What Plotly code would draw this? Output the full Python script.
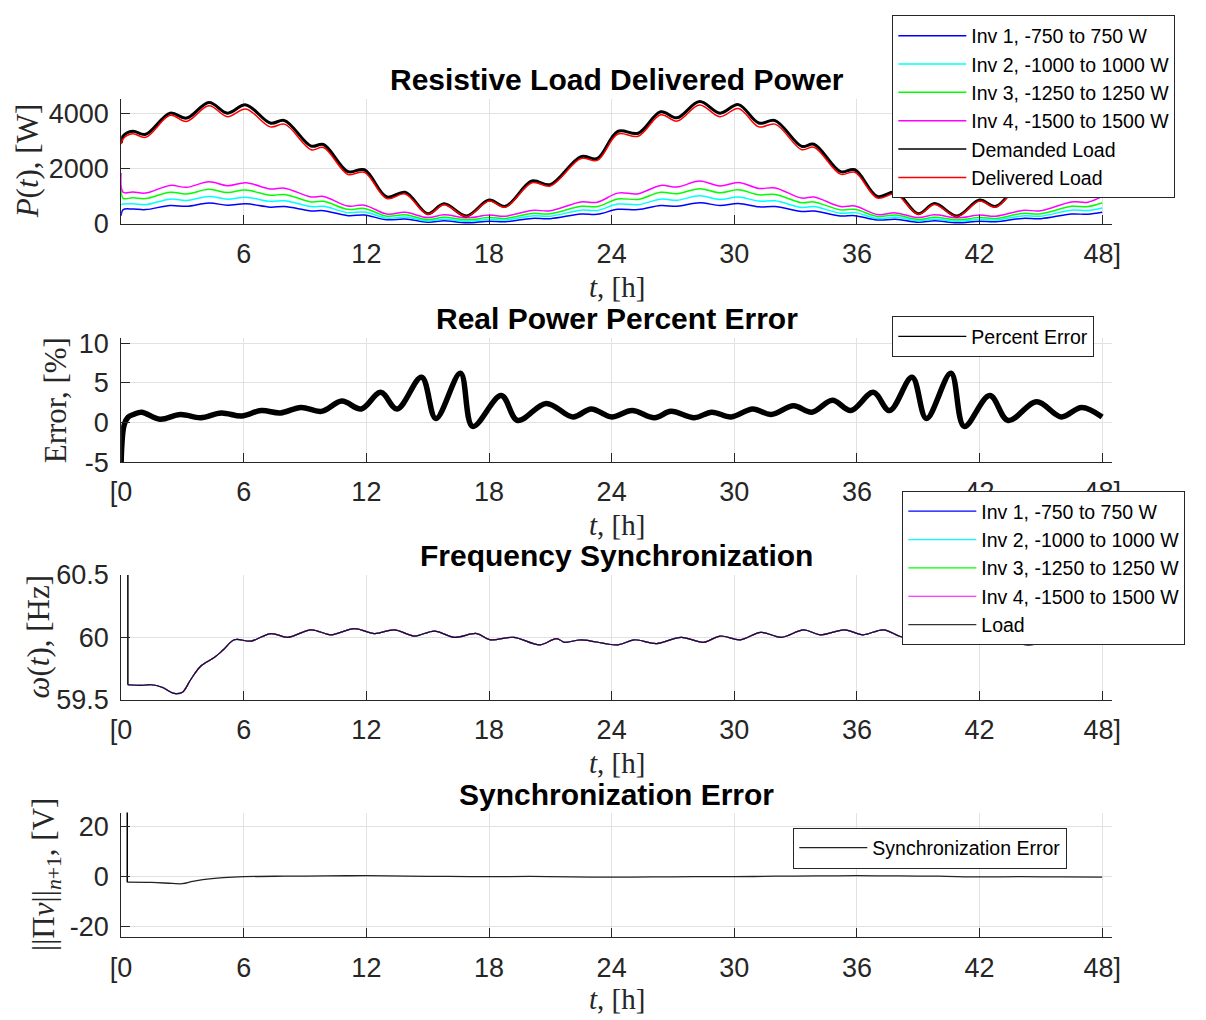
import plotly.graph_objects as go

W, H = 1206, 1020

# ---------------- data ----------------
T_P = [0, 0.1, 0.57, 1.2, 2.4, 3.2, 4.3, 5.2, 6.1, 7.3, 8.0, 9.3, 9.9, 11.1, 11.9, 13.0, 13.9, 15.0, 15.8, 16.9,
       18.0, 18.8, 20.1, 21.0, 22.5, 23.3,
       24.3, 25.3, 26.4, 27.2, 28.3, 29.3, 30.2, 31.2, 32.0, 33.3, 33.9, 35.2, 35.9, 37.0, 37.9, 39.0, 39.8,
       40.9, 42.0, 42.8, 44.1, 45.0, 46.5, 47.3, 48.0]
DEMAND = [2940, 3200, 3370, 3260, 4030, 3850, 4420, 4030, 4330, 3670, 3760, 2830, 2890, 1900, 1970, 980, 1150, 370,
          730, 290, 870, 640, 1560, 1430, 2450, 2380,
          3370, 3300, 4080, 3860, 4450, 4030, 4340, 3670, 3760, 2820, 2900, 1900, 1970, 1000, 1150, 370, 740,
          290, 870, 640, 1560, 1440, 2440, 2380, 3000]
DELIVERED = [2900, 3100, 3280, 3150, 3950, 3730, 4300, 3900, 4180, 3530, 3630, 2700, 2780, 1800, 1880, 920, 1090, 350,
             700, 270, 830, 610, 1500, 1380, 2380, 2310,
             3270, 3190, 3970, 3740, 4330, 3900, 4200, 3530, 3630, 2700, 2790, 1810, 1880, 940, 1090, 350, 710,
             270, 830, 610, 1500, 1390, 2370, 2310, 2900]
INV4 = [1850, 1150, 1160, 1120, 1400, 1330, 1530, 1390, 1500, 1270, 1300, 980, 1000, 650, 680, 360, 420, 230,
        330, 220, 320, 280, 490, 480, 800, 790,
        1120, 1100, 1400, 1340, 1560, 1380, 1510, 1290, 1310, 940, 980, 630, 650, 340, 400, 230, 330,
        220, 320, 280, 490, 480, 800, 790, 1000]
INV3 = [1300, 930, 950, 920, 1150, 1090, 1260, 1140, 1230, 1040, 1070, 800, 820, 530, 560, 280, 330, 160,
        240, 150, 230, 200, 380, 370, 640, 630,
        910, 890, 1150, 1100, 1280, 1130, 1240, 1060, 1070, 770, 800, 510, 530, 270, 320, 160, 240,
        150, 230, 200, 380, 370, 640, 630, 760]
INV2 = [700, 720, 730, 700, 900, 850, 1000, 900, 970, 820, 840, 630, 640, 410, 430, 210, 250, 110,
        170, 100, 160, 140, 290, 280, 500, 490,
        720, 700, 900, 860, 1020, 890, 980, 830, 840, 600, 630, 390, 410, 200, 240, 110, 170,
        100, 160, 140, 290, 280, 500, 490, 580]
INV1 = [300, 520, 540, 520, 670, 640, 760, 680, 730, 610, 630, 470, 480, 300, 320, 150, 180, 60,
        110, 40, 100, 80, 200, 190, 360, 350,
        530, 520, 670, 640, 770, 670, 740, 620, 630, 450, 470, 290, 300, 140, 170, 60, 110,
        40, 100, 80, 200, 190, 360, 350, 420]

T_E = [0, 0.15, 0.35, 0.6, 1.0, 1.9, 2.9, 3.9, 4.9, 5.9, 6.85, 7.8, 8.8, 9.8, 10.8, 11.75, 12.7, 13.5, 14.7, 15.4,
       16.6, 17.2, 18.6, 19.4, 20.8, 22.1, 23.0, 24.0, 25.0, 26.1, 26.9, 28.05, 28.9, 29.85, 30.9, 31.8, 32.9,
       33.8, 34.8, 35.7, 36.8, 37.6, 38.7, 39.4, 40.6, 41.25, 42.5, 43.4, 44.8, 46.0, 47.0, 48.0]
ERR = [-5, -0.3, 0.7, 1.0, 1.3, 0.4, 1.0, 0.6, 1.2, 0.8, 1.5, 1.2, 1.9, 1.4, 2.7, 1.7, 3.8, 1.7, 5.7, 0.5,
       6.2, -0.5, 3.4, 0.25, 2.4, 0.7, 1.7, 0.7, 1.5, 0.6, 1.4, 0.6, 1.3, 0.7, 1.7, 1.0, 2.1,
       1.3, 2.8, 1.5, 3.8, 1.5, 5.7, 0.5, 6.2, -0.5, 3.4, 0.25, 2.6, 0.7, 1.9, 0.7]

T_F = [0.33, 1.0, 1.47, 2.0, 2.6, 3.0, 3.4, 3.9, 4.57, 5.0, 5.54, 6.36, 7.34, 8.15, 9.3, 10.27, 11.42, 12.4,
       13.37, 14.35, 15.33, 16.3, 17.4, 18.06, 19.2, 20.5, 21.3, 21.7, 22.5, 24.3, 25.1, 26.2, 27.4, 28.5,
       29.3, 30.3, 31.3, 32.3, 33.4, 34.2, 35.4, 36.3, 37.3, 38.3, 39.3, 40.3, 41.3, 41.9, 42.6, 43.2,
       44.4, 45.6, 46.6, 47.7]
FREQ = [59.62, 59.615, 59.62, 59.6, 59.55, 59.56, 59.66, 59.77, 59.84, 59.9, 59.98, 59.97, 60.03, 60.0, 60.06,
        60.02, 60.07, 60.03, 60.06, 60.01, 60.05, 60.0, 60.03, 59.98, 60.0, 59.94, 59.99, 59.96, 59.98, 59.94,
        59.98, 59.95, 60.0, 59.96, 60.01, 59.98, 60.04, 60.0, 60.06, 60.02, 60.06, 60.02, 60.06, 60.0, 60.05,
        60.0, 60.03, 59.98, 60.0, 59.97, 59.94, 59.97, 59.96, 59.96]
T_F_SPIKE = [0.33, 0.33]
FREQ_SPIKE = [61.0, 59.62]

T_S = [0.3, 1.5, 2.5, 3.0, 3.5, 4.0, 5.0, 6.0, 8.0, 10.0, 12.0, 14.0, 16.0, 18.0, 20.0, 22.0, 24.0, 26.0,
       28.0, 30.0, 32.0, 34.0, 36.0, 38.0, 40.0, 42.0, 44.0, 46.0, 48.0]
SYNC = [-2.3, -2.4, -2.8, -2.9, -2.0, -1.3, -0.5, -0.1, 0.1, 0.2, 0.3, 0.1, 0.0, -0.1, 0.0, -0.2, -0.3, -0.2,
        -0.1, -0.1, 0.1, 0.2, 0.3, 0.2, 0.1, -0.2, -0.1, -0.2, -0.3]
T_S_SPIKE = [0.3, 0.3]
SYNC_SPIKE = [30.0, -2.3]

XTICKS = [0, 6, 12, 18, 24, 30, 36, 42, 48]
XTEXT_TOP = [" ", "6", "12", "18", "24", "30", "36", "42", "48]"]
XTEXT = ["[0", "6", "12", "18", "24", "30", "36", "42", "48]"]

INV_NAMES = ["Inv 1, -750 to 750 W", "Inv 2, -1000 to 1000 W", "Inv 3, -1250 to 1250 W", "Inv 4, -1500 to 1500 W"]
INV_COLORS = ["#0000ff", "#00ffff", "#00ff00", "#ff00ff"]

# ---------------- geometry (target pixels, corrected for the page's render scaling) ----------------
SX, BX = 0.984, 9.9
SY, BY = 0.972, 14.3
X0, X1 = 120, 1111
PANELS = [(98, 223.5), (338, 462), (575, 700), (813, 938)]


def px(v):
    return ((v - BX) / SX) / W


def py(v):
    return 1 - ((v - BY) / SY) / H


fig = go.Figure()

# panel 1
for name, col, vals in zip(INV_NAMES, INV_COLORS, [INV1, INV2, INV3, INV4]):
    fig.add_trace(go.Scatter(x=T_P, y=vals, name=name, mode="lines", line=dict(color=col, width=1.5, shape="spline"),
                             xaxis="x", yaxis="y", legend="legend"))
fig.add_trace(go.Scatter(x=T_P, y=DEMAND, name="Demanded Load", mode="lines", showlegend=False,
                         line=dict(color="#000000", width=3, shape="spline"), xaxis="x", yaxis="y"))
fig.add_trace(go.Scatter(x=[None], y=[None], name="Demanded Load", mode="lines",
                         line=dict(color="#000000", width=1.5), xaxis="x", yaxis="y", legend="legend"))
fig.add_trace(go.Scatter(x=T_P, y=DELIVERED, name="Delivered Load", mode="lines",
                         line=dict(color="#ff0000", width=1.5, shape="spline"), xaxis="x", yaxis="y", legend="legend"))

# panel 2
fig.add_trace(go.Scatter(x=T_E, y=ERR, name="Percent Error", mode="lines", showlegend=False,
                         line=dict(color="#000000", width=5.5, shape="spline"), xaxis="x2", yaxis="y2"))
fig.add_trace(go.Scatter(x=[None], y=[None], name="Percent Error", mode="lines",
                         line=dict(color="#000000", width=1.3), xaxis="x2", yaxis="y2", legend="legend2"))

# panel 3
for name, col in zip(INV_NAMES, INV_COLORS):
    fig.add_trace(go.Scatter(x=T_F, y=FREQ, name=name, mode="lines", line=dict(color=col, width=1.2, shape="spline"),
                             xaxis="x3", yaxis="y3", legend="legend3"))
fig.add_trace(go.Scatter(x=T_F, y=FREQ, name="Load", mode="lines", opacity=0.8,
                         line=dict(color="#000000", width=1.2, shape="spline"), xaxis="x3", yaxis="y3", legend="legend3"))
fig.add_trace(go.Scatter(x=T_F_SPIKE, y=FREQ_SPIKE, mode="lines", showlegend=False,
                         line=dict(color="#000000", width=1.5), xaxis="x3", yaxis="y3"))

# panel 4
fig.add_trace(go.Scatter(x=T_S, y=SYNC, name="Synchronization Error", mode="lines",
                         line=dict(color="#222222", width=1.3, shape="spline"), xaxis="x4", yaxis="y4", legend="legend4"))
fig.add_trace(go.Scatter(x=T_S_SPIKE, y=SYNC_SPIKE, mode="lines", showlegend=False,
                         line=dict(color="#000000", width=1.5), xaxis="x4", yaxis="y4"))

AX = "#262626"
GRID = "#e2e2e2"
TICKFONT = dict(family="Liberation Sans, Arial, sans-serif", size=27, color=AX)

YRANGES = [[0, 4560], [-5, 10.63], [59.5, 60.5], [-24.4, 25.6]]
YTICKS = [[0, 2000, 4000], [-5, 0, 5, 10], [59.5, 60, 60.5], [-20, 0, 20]]
YTEXT = [["0", "2000", "4000"], ["-5", "0", "5", "10"], ["59.5", "60", "60.5"], ["-20", "0", "20"]]

layout = dict(width=W, height=H, margin=dict(l=0, r=0, t=0, b=0), paper_bgcolor="white", plot_bgcolor="white",
              showlegend=True)
for i, (top, bot) in enumerate(PANELS):
    k = "" if i == 0 else str(i + 1)
    layout["xaxis" + k] = dict(domain=[px(X0), px(X1)], range=[0, 48.5], anchor="y" + k,
                               tickvals=XTICKS, ticktext=XTEXT_TOP if i == 0 else XTEXT,
                               showline=True, linecolor=AX, linewidth=1, ticks="inside", ticklen=9,
                               tickcolor=AX, showgrid=True, gridcolor=GRID, zeroline=False,
                               tickfont=TICKFONT, ticklabelstandoff=6)
    layout["yaxis" + k] = dict(domain=[py(bot), py(top)], range=YRANGES[i], anchor="x" + k,
                               tickvals=YTICKS[i], ticktext=YTEXT[i],
                               showline=True, linecolor=AX, linewidth=1, ticks="inside", ticklen=9,
                               tickcolor=AX, showgrid=True, gridcolor=GRID, zeroline=False,
                               tickfont=TICKFONT, ticklabelstandoff=6)

LEGFONT = dict(family="Liberation Sans, Arial, sans-serif", size=19.5, color="#000000")


def leg(x, y):
    return dict(x=px(x), y=min(py(y), 0.9995), xanchor="left", yanchor="top", bgcolor="white", bordercolor=AX,
                borderwidth=1, font=LEGFONT, itemwidth=68, tracegroupgap=0, itemclick=False)


layout["legend"] = leg(891, 5)
layout["legend2"] = leg(891, 316)
layout["legend3"] = leg(901, 491)
layout["legend4"] = leg(792, 828)

TITLES = ["Resistive Load Delivered Power", "Real Power Percent Error", "Frequency Synchronization",
          "Synchronization Error"]
TITLE_Y = [79, 318, 556, 795]
XLAB_Y = [287, 525, 763, 1000]
YLABS = ["<i>P</i>(<i>t</i>), [W]", "Error, [%]", "<i>ω</i>(<i>t</i>), [Hz]",
         "||Π<i>v</i>||<sub><i>n</i>+1</sub>, [V]"]
YLAB_X = [26, 54, 37, 45]
SERIF = "Liberation Serif, Times New Roman, serif"

ann = []
for i in range(4):
    top, bot = PANELS[i]
    ann.append(dict(text="<b>" + TITLES[i] + "</b>", x=px((X0 + X1) / 2), y=py(TITLE_Y[i]), xref="paper",
                    yref="paper", showarrow=False, xanchor="center", yanchor="middle",
                    font=dict(family="Liberation Sans, Arial, sans-serif", size=30, color="#000000")))
    ann.append(dict(text="<i>t</i>, [h]", x=px((X0 + X1) / 2), y=py(XLAB_Y[i]), xref="paper", yref="paper",
                    showarrow=False, xanchor="center", yanchor="middle",
                    font=dict(family=SERIF, size=29, color=AX)))
    ann.append(dict(text=YLABS[i], x=px(YLAB_X[i]), y=py((top + bot) / 2), xref="paper", yref="paper",
                    showarrow=False, xanchor="center", yanchor="middle", textangle=-90,
                    font=dict(family=SERIF, size=31, color=AX)))
layout["annotations"] = ann

fig.update_layout(**layout)
fig.write_html("out.html")
